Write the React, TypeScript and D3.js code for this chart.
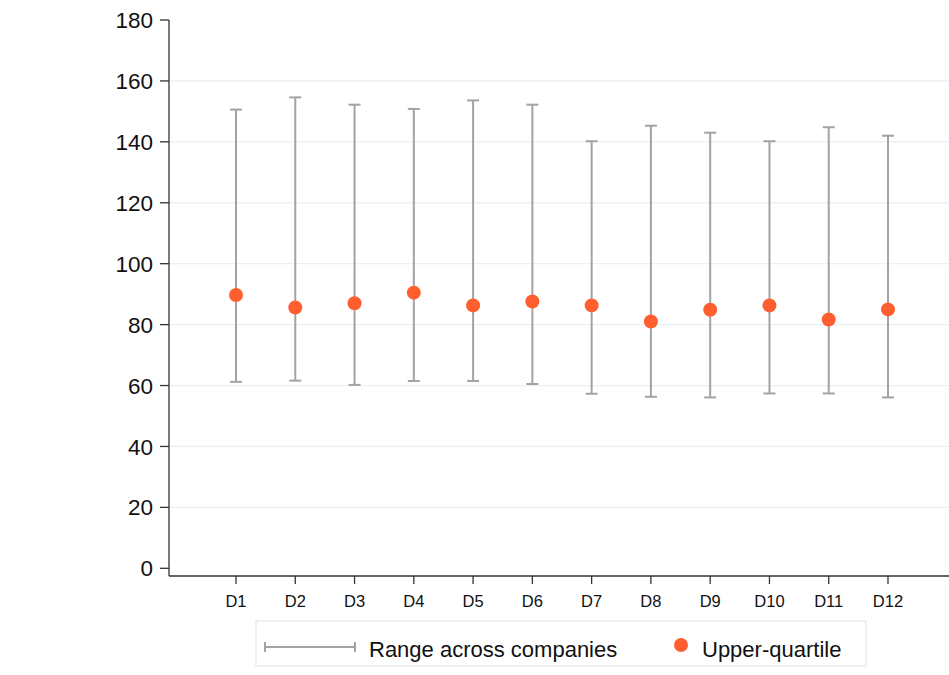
import React from "react";
import * as d3 from "d3";

const categories = ["D1", "D2", "D3", "D4", "D5", "D6", "D7", "D8", "D9", "D10", "D11", "D12"];
const rangeHigh = [150.6, 154.6, 152.2, 150.8, 153.6, 152.2, 140.2, 145.3, 143.0, 140.2, 144.8, 142.0];
const rangeLow = [61.2, 61.6, 60.2, 61.5, 61.5, 60.5, 57.3, 56.3, 56.1, 57.4, 57.4, 56.1];
const upperQuartile = [89.7, 85.6, 87.0, 90.5, 86.3, 87.6, 86.3, 81.0, 84.9, 86.3, 81.7, 85.0];
const yTicks = [0, 20, 40, 60, 80, 100, 120, 140, 160, 180];

const W = 949;
const H = 675;
const FONT = "'Liberation Sans', Arial, Helvetica, sans-serif";
const GREY = "#a3a3a3";
const ORANGE = "#ff5f2e";

export default function App() {
  const y = d3.scaleLinear().domain([0, 180]).range([568.3, 20]);
  const x = d3.scalePoint<string>().domain(categories).range([236, 888]);
  const axisX = 169;
  const axisY = 576;
  const cap = 6;

  return (
    <svg width={W} height={H} style={{ position: "absolute", left: 0, top: 0, background: "#fff" }}>
      {/* gridlines */}
      {yTicks.filter((t) => t > 0 && t < 180).map((t) => (
        <line key={"g" + t} x1={axisX} x2={W} y1={y(t)} y2={y(t)} stroke="#e9f1f3" strokeWidth={1.3} />
      ))}
      {/* y axis */}
      <line x1={axisX} x2={axisX} y1={y(180)} y2={axisY} stroke="#333" strokeWidth={1.3} />
      {yTicks.map((t) => (
        <g key={"y" + t}>
          <line x1={axisX - 9} x2={axisX} y1={y(t)} y2={y(t)} stroke="#333" strokeWidth={1.3} />
          <text x={153} y={y(t)} dy="0.36em" textAnchor="end" fontFamily={FONT} fontSize={22.5} fill="#111">
            {t}
          </text>
        </g>
      ))}
      {/* x axis */}
      <line x1={axisX} x2={W} y1={axisY} y2={axisY} stroke="#333" strokeWidth={1.3} />
      {categories.map((c) => (
        <g key={"x" + c}>
          <line x1={x(c)} x2={x(c)} y1={axisY} y2={axisY + 8} stroke="#333" strokeWidth={1.3} />
          <text x={x(c)} y={606.5} textAnchor="middle" fontFamily={FONT} fontSize={16.5} fill="#111">
            {c}
          </text>
        </g>
      ))}
      {/* range bars */}
      {categories.map((c, i) => {
        const cx = x(c)!;
        return (
          <g key={"r" + c} stroke={GREY} strokeWidth={2}>
            <line x1={cx} x2={cx} y1={y(rangeHigh[i])} y2={y(rangeLow[i])} />
            <line x1={cx - cap} x2={cx + cap} y1={y(rangeHigh[i])} y2={y(rangeHigh[i])} />
            <line x1={cx - cap} x2={cx + cap} y1={y(rangeLow[i])} y2={y(rangeLow[i])} />
          </g>
        );
      })}
      {/* upper-quartile points */}
      {categories.map((c, i) => (
        <circle key={"p" + c} cx={x(c)} cy={y(upperQuartile[i])} r={7} fill={ORANGE} />
      ))}
      {/* legend */}
      <rect x={256} y={621} width={610} height={45} fill="#fff" stroke="#e6e6e6" strokeWidth={1.2} />
      <g stroke={GREY} strokeWidth={2}>
        <line x1={265} x2={355} y1={647} y2={647} />
        <line x1={265} x2={265} y1={642} y2={652} />
        <line x1={355} x2={355} y1={642} y2={652} />
      </g>
      <text x={369} y={649} dy="0.36em" fontFamily={FONT} fontSize={22} fill="#111">
        Range across companies
      </text>
      <circle cx={681} cy={645} r={7} fill={ORANGE} />
      <text x={702} y={649} dy="0.36em" fontFamily={FONT} fontSize={22} fill="#111">
        Upper-quartile
      </text>
    </svg>
  );
}
